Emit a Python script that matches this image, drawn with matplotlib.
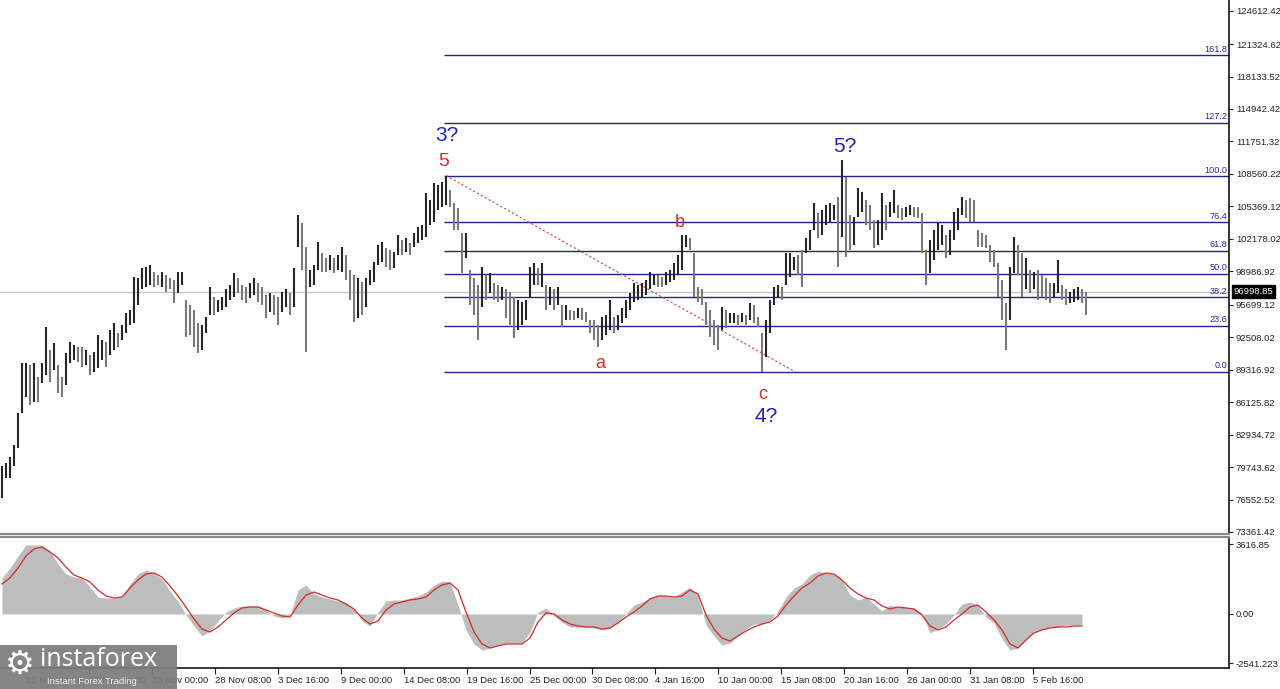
import numpy as np
import matplotlib
matplotlib.use("Agg")
import matplotlib.pyplot as plt
from matplotlib.patches import Rectangle

plt.rcParams['font.family'] = ['Liberation Sans', 'DejaVu Sans']

# ---------------- data (8-hour bars, prices in thousands USD) ----------------
high_k = [
    79.8, 80.1, 80.7, 81.9, 85.1, 90.0, 90.0, 89.8, 90.0, 88.6,
    90.0, 93.5, 91.3, 91.9, 89.8, 88.6, 91.0, 92.0, 91.7, 91.5,
    91.5, 91.3, 90.8, 91.1, 92.7, 92.2, 92.0, 93.2, 93.9, 92.9,
    93.7, 94.9, 95.2, 98.4, 98.3, 99.3, 99.4, 99.6, 98.9, 98.6,
    98.9, 98.6, 98.3, 98.1, 98.9, 98.9, 96.2, 95.7, 95.2, 93.9,
    93.7, 94.5, 97.4, 96.5, 96.2, 96.5, 97.2, 97.6, 98.8, 98.3,
    97.6, 97.4, 97.8, 98.3, 97.8, 97.4, 96.7, 96.9, 96.7, 96.5,
    97.0, 97.2, 96.9, 99.3, 104.5, 103.7, 101.4, 99.1, 99.6, 101.9,
    100.8, 100.3, 100.6, 100.3, 100.6, 101.4, 100.6, 99.1, 98.6, 98.3,
    97.9, 98.3, 99.1, 99.9, 101.6, 101.9, 101.3, 101.1, 100.9, 102.6,
    102.1, 102.3, 101.8, 102.8, 103.3, 103.5, 106.7, 106.0, 107.7, 107.5,
    107.8, 108.4, 107.0, 105.7, 105.2, 102.8, 102.8, 99.1, 98.3, 97.6,
    99.4, 98.6, 98.8, 97.8, 97.6, 97.4, 97.2, 97.0, 96.5, 96.2,
    96.0, 96.2, 99.4, 99.8, 99.3, 99.8, 97.6, 97.4, 97.2, 97.4,
    95.7, 95.7, 95.2, 95.1, 95.4, 95.4, 95.0, 94.2, 94.2, 93.7,
    94.5, 94.7, 96.2, 94.5, 94.7, 95.4, 96.2, 96.9, 97.8, 97.6,
    97.8, 98.1, 98.9, 98.6, 98.6, 98.4, 98.9, 99.1, 99.8, 100.6,
    102.6, 102.6, 102.3, 100.8, 97.4, 97.2, 96.0, 95.2, 94.2, 93.7,
    95.5, 95.2, 94.9, 94.9, 94.7, 94.9, 94.7, 95.9, 95.7, 94.5,
    92.9, 94.2, 96.2, 97.4, 97.6, 97.4, 100.8, 100.8, 100.4, 100.6,
    101.1, 102.3, 103.0, 105.7, 104.7, 105.0, 105.5, 105.7, 105.5, 106.3,
    109.9, 108.3, 104.5, 104.3, 107.2, 106.8, 106.0, 105.5, 104.0, 104.0,
    106.7, 105.5, 105.8, 107.0, 105.5, 105.2, 105.3, 105.5, 105.3, 105.3,
    104.7, 101.1, 102.1, 103.0, 103.7, 103.5, 102.6, 103.0, 104.8, 105.2,
    106.3, 106.0, 106.2, 106.0, 103.0, 102.8, 102.6, 101.6, 101.1, 99.8,
    98.1, 95.9, 99.4, 102.4, 101.6, 100.8, 100.3, 99.1, 98.9, 99.1,
    98.6, 98.3, 97.8, 97.8, 100.1, 97.6, 97.2, 97.0, 97.2, 97.4,
    97.2, 97.0]
low_k = [
    76.7, 78.7, 78.7, 79.8, 81.6, 85.1, 86.6, 85.8, 86.1, 86.1,
    88.0, 88.8, 88.1, 89.3, 87.0, 86.6, 87.8, 90.0, 90.3, 90.1,
    89.6, 89.8, 88.8, 89.1, 89.5, 90.3, 89.6, 90.8, 91.3, 91.5,
    92.2, 92.9, 93.7, 93.9, 95.7, 97.2, 97.4, 97.6, 97.4, 97.6,
    97.4, 97.0, 97.2, 95.9, 96.9, 97.6, 92.5, 92.7, 91.5, 91.0,
    91.3, 92.9, 94.7, 94.7, 95.0, 95.2, 95.5, 96.2, 96.5, 96.9,
    96.2, 95.9, 96.4, 96.7, 96.0, 95.7, 94.4, 95.0, 94.7, 93.7,
    95.0, 95.5, 94.7, 95.5, 101.4, 99.1, 91.1, 97.4, 97.6, 99.1,
    98.9, 98.9, 99.1, 98.8, 99.1, 98.9, 98.1, 96.2, 94.0, 94.4,
    94.7, 95.5, 97.6, 97.9, 99.6, 99.9, 99.4, 99.1, 99.3, 100.6,
    100.6, 100.9, 100.6, 101.4, 101.8, 102.1, 102.4, 103.5, 103.8, 105.0,
    105.3, 105.5, 105.3, 103.0, 103.0, 98.8, 100.3, 95.7, 94.7, 92.2,
    95.5, 96.2, 96.9, 96.2, 96.0, 96.2, 94.4, 93.7, 92.4, 93.2,
    93.7, 94.2, 96.5, 97.6, 97.6, 97.4, 95.2, 95.7, 95.2, 95.7,
    93.5, 94.2, 94.2, 94.2, 94.4, 94.2, 94.0, 92.9, 92.2, 91.5,
    92.2, 92.7, 93.2, 92.9, 93.2, 93.9, 94.4, 95.2, 96.0, 96.2,
    96.4, 96.7, 97.2, 97.6, 97.4, 97.4, 97.6, 97.9, 98.1, 98.6,
    99.1, 101.4, 101.1, 96.5, 96.0, 95.7, 93.7, 92.5, 91.7, 91.3,
    93.2, 93.4, 93.9, 93.9, 93.7, 94.0, 93.7, 94.2, 93.9, 93.5,
    89.1, 90.6, 92.9, 95.7, 96.5, 96.2, 97.6, 98.4, 99.1, 98.6,
    97.4, 100.8, 101.1, 103.0, 102.3, 102.6, 103.5, 103.8, 104.0, 99.4,
    102.4, 100.4, 101.1, 101.6, 104.3, 104.8, 103.5, 103.0, 101.3, 101.6,
    102.1, 103.0, 104.3, 104.7, 104.2, 104.0, 104.3, 104.5, 104.3, 104.2,
    100.8, 97.6, 98.8, 100.1, 101.1, 101.6, 100.3, 100.6, 102.1, 103.0,
    104.5, 104.2, 103.8, 103.8, 101.4, 101.4, 101.3, 99.9, 99.4, 96.5,
    94.2, 91.3, 94.2, 98.8, 98.6, 96.5, 97.2, 96.9, 97.2, 96.2,
    96.5, 96.2, 95.9, 96.4, 96.9, 96.2, 95.7, 95.9, 96.0, 96.2,
    95.9, 94.7]

# MACD (one value per two bars)
macd_hist = [
    1861, 2378, 2999, 3567, 3567, 3567, 3257, 2585, 2068, 1913,
    1861, 1396, 879, 827, 827, 879, 1551, 2068, 2275, 2120,
    1810, 1189, 672, -52, -620, -1137, -879, -362, 103, 310,
    414, 414, 414, 207, -103, -207, -103, 1241, 1499, 1034,
    879, 776, 672, 569, 259, -362, -620, 103, 672, 724,
    724, 827, 931, 1137, 1499, 1706, 1654, 465, -827, -1551,
    -1861, -1758, -1603, -1499, -1499, -1499, -931, 103, 310, -103,
    -414, -672, -672, -672, -724, -827, -724, -414, 0, 465,
    620, 827, 982, 931, 879, 1137, 1396, 931, -569, -1137,
    -1603, -1499, -1137, -776, -517, -517, -310, 155, 879, 1344,
    1551, 2016, 2223, 2120, 2068, 1758, 982, 724, 879, 517,
    155, 465, 362, 362, 310, 52, -982, -776, -517, -52,
    517, 620, 465, -155, -465, -1292, -1861, -1758, -1344, -931,
    -776, -672, -672, -569, -569, -569]
macd_signal = [
    1551, 1861, 2378, 2999, 3361, 3464, 3205, 2895, 2430, 2016,
    1861, 1654, 1241, 931, 827, 879, 1344, 1758, 2068, 2120,
    1913, 1448, 931, 362, -259, -776, -931, -672, -310, 52,
    310, 362, 362, 207, 52, -103, -155, 465, 982, 1137,
    982, 827, 724, 517, 259, -207, -517, -362, 207, 517,
    620, 724, 776, 879, 1241, 1499, 1603, 1241, 103, -931,
    -1551, -1758, -1654, -1551, -1551, -1551, -1241, -414, 52, 0,
    -310, -517, -620, -672, -672, -776, -724, -465, -155, 103,
    414, 776, 931, 931, 879, 931, 1241, 1034, -52, -776,
    -1241, -1396, -1137, -879, -672, -517, -414, -103, 465, 931,
    1344, 1603, 1965, 2120, 2068, 1758, 1344, 1034, 827, 724,
    414, 259, 362, 310, 259, -52, -620, -827, -672, -310,
    0, 362, 465, 103, -310, -827, -1551, -1758, -1344, -982,
    -827, -724, -672, -672, -620, -620]

price_ticks = [124612.42, 121324.62, 118133.52, 114942.42, 111751.32, 108560.22,
               105369.12, 102178.02, 98986.92, 95699.12, 92508.02, 89316.92,
               86125.82, 82934.72, 79743.62, 76552.52, 73361.42]
macd_ticks = [3616.85, 0.0, -2541.223]
macd_tick_labels = ["3616.85", "0.00", "-2541.223"]
time_labels = ["12 Nov 08:00", "17 Nov 16:00", "23 Nov 00:00", "28 Nov 08:00",
               "3 Dec 16:00", "9 Dec 00:00", "14 Dec 08:00", "19 Dec 16:00",
               "25 Dec 00:00", "30 Dec 08:00", "4 Jan 16:00", "10 Jan 00:00",
               "15 Jan 08:00", "20 Jan 16:00", "26 Jan 00:00", "31 Jan 08:00",
               "5 Feb 16:00"]
current_price = 96998.85
fib_low = 89100.0
fib_high = 108350.0
fib_levels = [0.0, 23.6, 38.2, 50.0, 61.8, 76.4, 100.0, 127.2, 161.8]

# ---------------- figure ----------------
W, H = 1280, 689
fig = plt.figure(figsize=(W / 100, H / 100), dpi=100)
fig.patch.set_facecolor('white')

right = 1229 / W
ax = fig.add_axes([0, 1 - 534 / H, right, 534 / H])
ax2 = fig.add_axes([0, 1 - 668 / H, right, (668 - 537) / H])

highs = np.array(high_k) * 1000
lows = np.array(low_k) * 1000
n = min(len(highs), len(lows))
idx = np.arange(n)

XMIN, XMAX = -0.5, 306.75
for a in (ax, ax2):
    a.set_xlim(XMIN, XMAX)
    a.set_facecolor('white')

ax.set_ylim(73164, 125657)
ax2.set_ylim(-2792, 3981)

# current price line
ax.axhline(current_price, color='#c8c8c8', lw=1.0, zorder=1)

# fibonacci levels
fib_start = 110.5
span = fib_high - fib_low
for lv in fib_levels:
    yv = fib_low + span * lv / 100.0
    ax.hlines(yv, fib_start, XMAX, color='#23238e', lw=1.0, zorder=2)
    ax.text(XMAX - 0.4, yv + 150, f"{lv:.1f}", color='#2a2aa0', fontsize=6.6,
            ha='right', va='bottom', zorder=3)

# bars
mids = (highs + lows) / 2
cols = ['#262626' if (i == 0 or mids[i] >= mids[i - 1]) else '#7a7a7a' for i in range(n)]
ax.vlines(idx, lows[:n], highs[:n], colors=cols, lw=1.5, zorder=4)

# dashed trend line (from wave 5 high to below wave c)
ax.plot([111, 198.3], [highs[111], fib_low], color='#d04040', lw=0.8,
        ls=(0, (2, 2)), zorder=3)

# wave labels
blue = '#2222c0'
red = '#dd2a2a'
ax.text(111.3, 112300, "3?", color=blue, fontsize=15, ha='center', va='center')
ax.text(110.5, 109800, "5", color=red, fontsize=14, ha='center', va='center')
ax.text(169.5, 103800, "b", color=red, fontsize=13, ha='center', va='center')
ax.text(149.5, 89900, "a", color=red, fontsize=13, ha='center', va='center')
ax.text(190.3, 86900, "c", color=red, fontsize=13, ha='center', va='center')
ax.text(191.0, 84700, "4?", color=blue, fontsize=15, ha='center', va='center')
ax.text(210.8, 111300, "5?", color=blue, fontsize=15, ha='center', va='center')

# axes styling - main
ax.set_xticks([])
ax.yaxis.tick_right()
ax.set_yticks(price_ticks)
ax.set_yticklabels([f"{v:.2f}" for v in price_ticks])
ax.tick_params(axis='y', direction='out', length=3, pad=2, labelsize=6.8,
               colors='#222222', width=0.8)
for s in ('top', 'left'):
    ax.spines[s].set_visible(False)
ax.spines['right'].set_color('black')
ax.spines['right'].set_linewidth(1.1)
ax.spines['bottom'].set_color('#8a8a8a')
ax.spines['bottom'].set_linewidth(1.6)

# current price tag
ax.text(1.004, current_price, f"{current_price:.2f}", transform=ax.get_yaxis_transform(),
        color='white', fontsize=6.8, ha='left', va='center', zorder=6,
        bbox=dict(boxstyle='square,pad=0.18', fc='black', ec='black'), clip_on=False)

# ---------------- MACD ----------------
mx = np.arange(len(macd_hist)) * 2
ax2.fill_between(mx, 0, macd_hist, color='#bdbdbd', lw=0, zorder=2)
ax2.plot(np.arange(len(macd_signal)) * 2, macd_signal, color='#d42a2a', lw=0.9, zorder=3)

ax2.yaxis.tick_right()
ax2.set_yticks(macd_ticks)
ax2.set_yticklabels(macd_tick_labels)
ax2.tick_params(axis='y', direction='out', length=3, pad=2, labelsize=6.8,
                colors='#222222', width=0.8)
tick_pos = [37.5 + 15.73 * (k - 2) for k in range(len(time_labels))]
ax2.set_xticks(tick_pos)
ax2.set_xticklabels(time_labels, ha='left')
ax2.tick_params(axis='x', direction='out', length=4, pad=2, labelsize=6.8,
                colors='#222222', width=0.8)
ax2.spines['left'].set_visible(False)
ax2.spines['top'].set_color('#8a8a8a')
ax2.spines['top'].set_linewidth(1.6)
ax2.spines['right'].set_color('black')
ax2.spines['right'].set_linewidth(1.1)
ax2.spines['bottom'].set_color('black')
ax2.spines['bottom'].set_linewidth(1.1)

# ---------------- logo ----------------
fig.add_artist(Rectangle((0, 0), 177 / W, 44 / H, transform=fig.transFigure,
                         facecolor='#7c7c7c', edgecolor='none', alpha=0.93, zorder=20))
fig.text(20 / W, 1 - 664 / H, "\u2699", color='white', fontsize=24,
         family=['DejaVu Sans'], ha='center', va='center', zorder=21)
fig.text(40 / W, 1 - 660 / H, "instaforex", color='white', fontsize=18,
         family=['Open Sans', 'DejaVu Sans'], ha='left', va='center', zorder=21)
fig.text(47 / W, 1 - 682 / H, "Instant Forex Trading", color='#f0f0f0', fontsize=6.8,
         ha='left', va='center', zorder=21)

fig.savefig("out.png", dpi=100)
